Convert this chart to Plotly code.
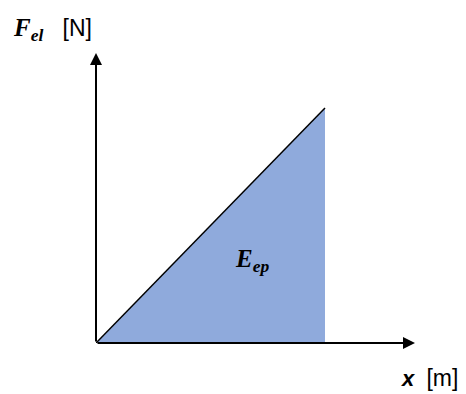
import plotly.graph_objects as go

# displacement and elastic force (arbitrary units, linear spring)
x_vals = [0, 1, 1]
f_vals = [0, 1, 0]
x_max, f_max = 1.393, 1.234

fig = go.Figure()

# shaded area under F(x) = elastic potential energy
fig.add_trace(go.Scatter(x=x_vals, y=f_vals, fill="toself", fillcolor="#8FAADC",
                         mode="none", hoverinfo="skip"))
# hypotenuse line F = kx
fig.add_trace(go.Scatter(x=x_vals[:2], y=f_vals[:2], mode="lines",
                         line=dict(color="black", width=1.5), hoverinfo="skip"))

# axes with arrows
for tx, ty in [(x_max, 0), (0, f_max)]:
    fig.add_annotation(x=tx, y=ty, ax=0, ay=0, xref="x", yref="y", axref="x", ayref="y",
                       showarrow=True, arrowhead=2, arrowsize=1.2, arrowwidth=2,
                       arrowcolor="black", text="")

fig.add_annotation(x=0.683, y=0.353, xref="x", yref="y", showarrow=False,
                   text="<b><i>E</i></b><sub><b><i>ep</i></b></sub>",
                   font=dict(family="Liberation Serif", size=25, color="black"))
fig.add_annotation(x=-0.266, y=1.141, xref="paper", yref="paper", showarrow=False,
                   text="<b><i>F</i></b><sub><b><i>el</i></b></sub>"
                        "<span style='font-family:Liberation Sans;font-size:23px'>   [N]</span>",
                   font=dict(family="Liberation Serif", size=25, color="black"))
fig.add_annotation(x=1.14, y=-0.173, xref="paper", yref="paper", showarrow=False,
                   text="<b><i>x</i></b>  <span style='font-size:23px'>[m]</span>",
                   font=dict(family="Liberation Sans", size=22, color="black"))

# page body has an 8px default margin, so offset the plot area to match
fig.update_layout(width=466, height=394, margin=dict(l=88, r=59, t=45, b=59, autoexpand=False),
                  paper_bgcolor="white", plot_bgcolor="white", showlegend=False)
fig.update_xaxes(range=[0, x_max], visible=False)
fig.update_yaxes(range=[0, f_max], visible=False)

fig.write_html("out.html")
